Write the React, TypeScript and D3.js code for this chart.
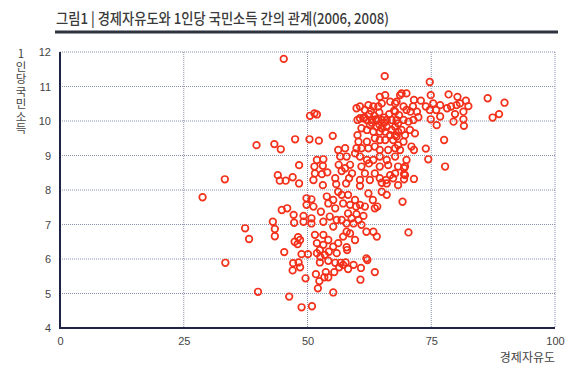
import React, { useEffect, useRef } from 'react';
import * as d3 from 'd3';

// 경제자유도 (x) / 1인당 국민소득, log (y)
const freedom = [
  45.2, 50.5, 51.4, 51.9, 39.7, 43.3, 44.6, 47.5, 50.4, 52.3, 55.1, 33.3, 48.3, 44.0, 44.4, 45.6, 47.0, 48.3, 28.8, 44.8,
  45.9, 47.2, 43.0, 43.4, 43.4, 37.4, 38.2, 33.4, 40.0, 46.3, 45.3, 47.4, 48.0, 48.1, 47.1, 48.2, 47.0, 48.5, 48.8, 50.1,
  49.6, 48.8, 50.9, 55.2, 52.1, 52.4, 51.7, 53.4, 54.2, 53.7, 55.4, 51.9, 52.6, 54.3, 55.9, 58.0, 52.5, 54.2, 55.6, 56.7,
  57.2, 56.4, 57.7, 58.2, 59.3, 60.8, 62.1, 63.6, 60.7, 51.4, 53.1, 51.5, 52.9, 54.0, 51.2, 53.1, 55.6, 55.8, 56.3, 56.9,
  57.6, 58.6, 59.0, 58.4, 57.8, 60.6, 60.6, 61.6, 62.4, 62.6, 63.6, 64.6, 64.6, 65.0, 66.0, 66.3, 67.7, 68.3, 49.8, 50.8,
  49.8, 51.2, 52.7, 53.9, 54.2, 55.2, 55.6, 56.2, 56.9, 57.2, 58.2, 58.6, 59.6, 59.8, 60.6, 61.6, 62.3, 63.2, 63.6, 64.1,
  47.3, 49.2, 49.2, 50.8, 50.8, 53.2, 54.5, 55.2, 55.9, 56.9, 57.9, 58.2, 58.9, 59.3, 59.9, 60.3, 60.9, 61.3, 65.9, 66.7,
  65.0, 66.0, 61.9, 63.3, 64.0, 51.5, 53.2, 51.9, 53.2, 54.2, 48.5, 52.5, 53.5, 55.2, 56.2, 57.9, 58.6, 59.6, 61.9, 57.9,
  57.2, 65.6, 59.9, 60.6, 61.6, 62.3, 63.3, 64.3, 64.6, 65.7, 65.0, 66.7, 67.7, 68.7, 68.5, 68.0, 67.0, 66.0, 65.0, 64.0,
  63.0, 62.0, 61.3, 60.6, 60.1, 62.6, 64.0, 65.0, 66.0, 67.0, 67.7, 68.3, 60.9, 62.0, 63.3, 64.6, 65.7, 66.7, 67.7, 68.3,
  60.1, 60.3, 62.0, 63.6, 64.6, 65.7, 67.3, 68.3, 59.9, 60.9, 62.3, 63.6, 64.6, 66.3, 67.7, 56.2, 57.6, 59.6, 56.6, 57.9,
  60.6, 62.0, 63.3, 64.6, 66.0, 67.7, 51.9, 53.2, 60.9, 68.3, 62.5, 63.5, 64.5, 65.5, 66.5, 63.0, 64.5, 65.5, 61.5, 67.5,
  63.8, 62.8, 74.7, 74.9, 78.5, 80.3, 82.0, 82.5, 86.4, 89.8, 88.7, 87.4, 81.5, 81.5, 81.6, 79.5, 79.8, 79.0, 78.2, 80.8,
  80.1, 76.8, 75.4, 76.0, 74.7, 73.9, 72.9, 71.5, 71.3, 72.1, 70.8, 70.0, 69.4, 69.4, 70.4, 71.4, 72.4, 74.9, 76.8, 76.1,
  77.6, 73.9, 74.4, 77.8, 69.7, 71.5, 71.0, 69.4, 68.7, 68.0, 69.7, 71.7, 70.7, 69.0, 70.0, 69.0, 68.0, 67.7, 71.5, 69.7,
  69.2, 70.4, 69.5, 69.5, 69.5, 67.3, 70.0,
];

const income = [
  11.8, 10.15, 10.22, 10.19, 9.3, 9.33, 9.18, 9.47, 9.47, 9.43, 9.57, 8.31, 8.72, 8.43, 8.27, 8.27, 8.37, 8.19, 7.79, 7.42,
  7.47, 7.28, 7.08, 6.87, 6.66, 6.89, 6.58, 5.89, 5.05, 4.91, 6.2, 6.5, 6.43, 6.63, 5.88, 5.9, 5.67, 5.76, 6.14, 6.14,
  5.44, 4.6, 4.63, 5.03, 5.15, 5.36, 5.56, 5.47, 5.47, 5.62, 5.62, 6.17, 6.06, 6.21, 6.17, 6.26, 5.9, 5.95, 5.89, 5.89,
  5.83, 5.76, 5.9, 5.71, 5.83, 5.74, 5.97, 5.62, 5.4, 8.68, 8.7, 8.48, 8.46, 8.51, 8.29, 8.14, 8.34, 8.17, 8.73, 8.55,
  8.63, 8.73, 8.48, 8.34, 8.19, 8.29, 8.12, 8.48, 8.77, 8.29, 8.48, 8.68, 8.34, 8.21, 8.19, 8.72, 8.48, 8.14, 7.76, 7.73,
  7.57, 7.52, 7.37, 7.81, 7.61, 7.71, 7.47, 7.95, 7.86, 7.61, 7.86, 7.57, 7.71, 7.52, 7.57, 7.52, 7.9, 7.71, 7.47, 7.52,
  7.05, 7.25, 7.08, 7.18, 7.03, 7.08, 7.23, 6.94, 7.13, 7.13, 7.03, 7.32, 7.18, 7.03, 7.3, 7.13, 6.99, 7.25, 8.29, 8.43,
  7.95, 7.86, 6.79, 6.79, 6.65, 6.7, 6.7, 6.46, 6.41, 6.55, 6.55, 6.26, 6.12, 6.36, 6.46, 6.34, 6.74, 6.55, 6.02, 6.79,
  6.65, 11.3, 10.37, 10.42, 10.32, 10.46, 10.42, 10.42, 10.7, 10.75, 10.51, 10.56, 10.51, 10.75, 10.17, 10.03, 10.03, 10.03, 10.03, 10.03,
  10.03, 10.03, 10.08, 10.08, 10.03, 9.88, 9.83, 9.79, 9.83, 9.74, 9.83, 9.93, 9.79, 9.74, 9.69, 9.69, 9.69, 9.59, 9.59, 9.69,
  9.59, 9.4, 9.4, 9.5, 9.45, 9.45, 9.45, 9.3, 9.21, 9.21, 9.21, 9.26, 9.16, 9.16, 9.21, 9.16, 9.21, 9.06, 8.97, 8.97,
  8.97, 8.87, 8.87, 8.97, 8.87, 8.97, 8.87, 8.89, 8.68, 8.68, 10.2, 10.15, 10.25, 10.1, 10.2, 9.95, 9.9, 9.95, 10.1, 10.3,
  10.05, 10.3, 11.13, 10.75, 10.77, 10.7, 10.59, 10.43, 10.66, 10.53, 10.2, 10.1, 10.27, 10.05, 9.86, 9.98, 10.2, 10.42, 10.37, 10.51,
  10.46, 10.46, 10.51, 10.32, 10.32, 10.42, 10.59, 10.61, 10.42, 10.27, 10.27, 10.32, 10.42, 10.03, 9.98, 10.03, 10.11, 10.05, 10.13, 9.88,
  9.45, 9.2, 8.89, 8.68, 8.68, 9.16, 9.26, 9.4, 9.16, 9.55, 9.59, 9.64, 9.74, 9.74, 10.8, 10.8, 10.56, 10.27, 8.32, 8.43,
  7.66, 6.77, 8.63, 8.46, 8.31, 8.34, 8.87,
];

const xTicks = [0, 25, 50, 75, 100];
const yTicks = [4, 5, 6, 7, 8, 9, 10, 11, 12];

const title = '그림1 | 경제자유도와 1인당 국민소득 간의 관계(2006, 2008)';
const xTitle = '경제자유도';
const yTitle = '1인당국민소득';

export default function App() {
  const ref = useRef<SVGSVGElement>(null);

  useEffect(() => {
    document.body.style.margin = '0';
    const svg = d3.select(ref.current);
    svg.selectAll('*').remove();

    const left = 60;
    const right = 555;
    const top = 52;
    const bottom = 328;

    const xScale = d3.scaleLinear().domain([0, 100]).range([left, right]);
    const yScale = d3.scaleLinear().domain([4, 12]).range([bottom, top]);

    const numFont = '"Liberation Sans", Arial, sans-serif';
    const krFont = '"Noto Sans CJK KR", sans-serif';

    // title
    svg
      .append('text')
      .attr('x', 56)
      .attr('y', 24)
      .attr('font-family', krFont)
      .attr('font-size', 15)
      .attr('font-weight', 500)
      .attr('fill', '#3a3a3a')
      .attr('textLength', 333)
      .attr('lengthAdjust', 'spacingAndGlyphs')
      .text(title);

    svg
      .append('line')
      .attr('x1', 55)
      .attr('x2', 558)
      .attr('y1', 32)
      .attr('y2', 32)
      .attr('stroke', '#2f3340')
      .attr('stroke-width', 3);

    // grid
    const grid = svg.append('g').attr('stroke', '#8a90b0').attr('stroke-width', 1).attr('stroke-dasharray', '1,1');
    grid
      .selectAll('line.h')
      .data(yTicks.slice(1))
      .enter()
      .append('line')
      .attr('x1', left)
      .attr('x2', right)
      .attr('y1', (d) => yScale(d))
      .attr('y2', (d) => yScale(d));
    grid
      .selectAll('line.v')
      .data(xTicks.slice(1))
      .enter()
      .append('line')
      .attr('x1', (d) => xScale(d))
      .attr('x2', (d) => xScale(d))
      .attr('y1', top)
      .attr('y2', bottom);

    // axes
    const xAxis = d3.axisBottom(xScale).tickValues(xTicks).tickSize(0).tickPadding(9);
    const yAxis = d3.axisLeft(yScale).tickValues(yTicks).tickSize(0).tickPadding(9);

    const gx = svg.append('g').attr('transform', `translate(0, ${bottom})`).call(xAxis);
    const gy = svg.append('g').attr('transform', `translate(${left}, 0)`).call(yAxis);
    [gx, gy].forEach((g) => {
      g.select('.domain').remove();
      g.selectAll('text').attr('font-family', numFont).attr('font-size', 11).attr('fill', '#444');
    });

    svg
      .append('path')
      .attr('d', `M${left},${top}V${bottom}H${right}`)
      .attr('fill', 'none')
      .attr('stroke', '#1d2446')
      .attr('stroke-width', 2);

    // points
    svg
      .append('g')
      .selectAll('circle')
      .data(freedom)
      .enter()
      .append('circle')
      .attr('cx', (d) => xScale(d))
      .attr('cy', (_, i) => yScale(income[i]))
      .attr('r', 3.3)
      .attr('fill', 'none')
      .attr('stroke', '#f3301a')
      .attr('stroke-width', 1.7);

    // axis titles
    svg
      .append('text')
      .attr('x', 21)
      .attr('y', 48)
      .attr('font-family', krFont)
      .attr('font-size', 11.5)
      .attr('fill', '#444')
      .attr('letter-spacing', 1)
      .style('writing-mode', 'vertical-rl')
      .style('text-orientation', 'upright')
      .text(yTitle);

    svg
      .append('text')
      .attr('x', right)
      .attr('y', 362)
      .attr('text-anchor', 'end')
      .attr('font-family', krFont)
      .attr('font-size', 12)
      .attr('fill', '#444')
      .text(xTitle);
  }, []);

  return <svg ref={ref} width={580} height={374} style={{ display: 'block', background: '#fff' }} />;
}
